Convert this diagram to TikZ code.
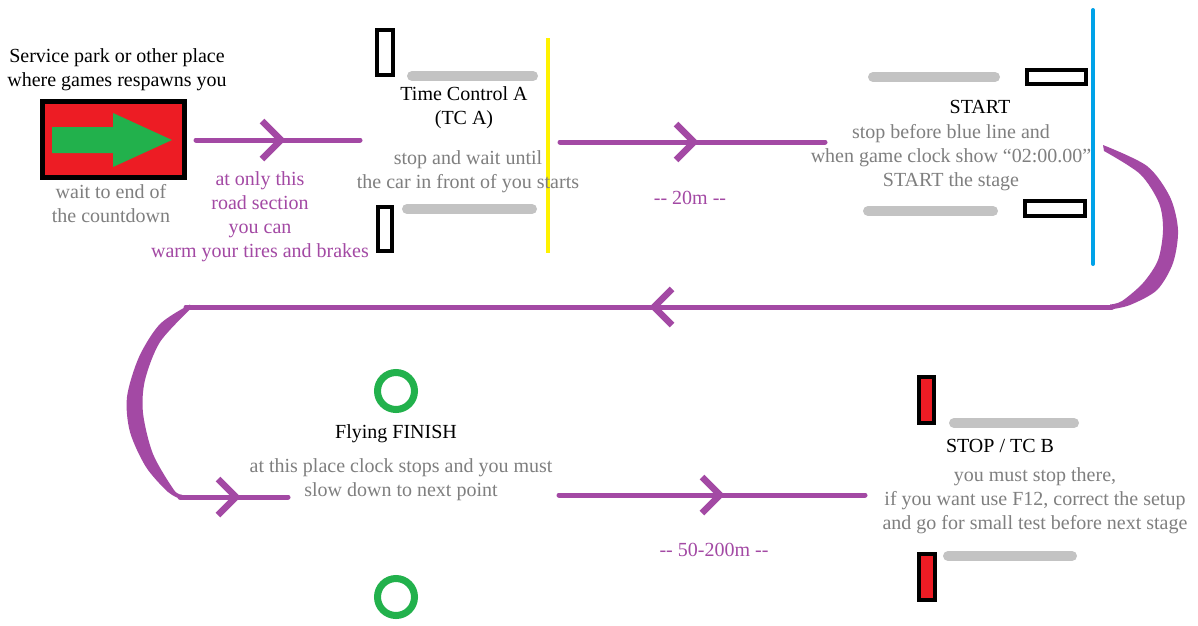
\documentclass[tikz,border=0pt]{standalone}
\usepackage{fontspec}
\setmainfont{Liberation Serif}
\newfontfamily\tnr{Liberation Serif}
\definecolor{purp}{RGB}{163,73,164}
\definecolor{tred}{RGB}{237,28,36}
\definecolor{tgreen}{RGB}{34,177,76}
\definecolor{tblue}{RGB}{0,162,232}
\definecolor{tyellow}{RGB}{255,242,0}
\definecolor{lgray}{RGB}{195,195,195}
\definecolor{tgray}{RGB}{127,127,127}
\tikzset{
  road/.style={draw=purp, line width=5pt, line cap=round},
  chev/.style={draw=purp, line width=6.5pt, line join=miter, line cap=butt},
  bar/.style={draw=lgray, line width=10pt, line cap=round},
  post/.style={draw=black, line width=4pt},
  redpost/.style={post, fill=tred},
  ring/.style={draw=tgreen, line width=7pt},
  txt/.style={inner sep=0pt, align=center, font=\tnr\fontsize{20}{24}\selectfont},
  blk/.style={txt, text=black},
  gry/.style={txt, text=tgray},
  prp/.style={txt, text=purp}
}
\begin{document}
\begin{tikzpicture}[x=1pt, y=-1pt]
\useasboundingbox[fill=white] (0,0) rectangle (1198,625);

% ---------- service park ----------
\node[blk] (svc) at (117,69.5) {Service park or other place\\where games respawns you};
\draw[line width=5pt, fill=tred] (42.5,101.5) rectangle (184.5,177.5);
\fill[tgreen] (52,127) -- (113,127) -- (113,113) -- (172,140) -- (113,167) -- (113,153) -- (52,153) -- cycle;
\node[gry] (wait) at (111,204) {wait to end of\\the countdown};

% road 1
\coordinate (r1a) at (196,140);
\coordinate (r1b) at (360,140);
\draw[road] (r1a) -- (r1b);
\draw[chev] (262,121) -- (281,140) -- (262,159);
\node[prp] (warm) at (260,217) {at only this\\road section\\you can\\warm your tires and brakes};

% ---------- TC A ----------
\draw[post] (377,30) rectangle (393,75);
\draw[post] (378,207) rectangle (392,251);
\draw[bar] (412,76) -- (533,76);
\draw[bar] (407,209) -- (532,209);
\draw[line width=4pt, draw=tyellow] (548,38) -- (548,253);
\node[blk] (tca) at (464,108) {Time Control A\\(TC A)};
\node[gry] (tcat) at (468,171.5) {stop and wait until\\the car in front of you starts};

% road 2
\coordinate (r2a) at (560,142);
\coordinate (r2b) at (825,142);
\draw[road] (r2a) -- (r2b);
\draw[chev] (676,124) -- (694,142) -- (676,160);
\node[prp] (d20) at (690,198) {-\kern0pt- 20m -\kern0pt-};

% ---------- START ----------
\draw[bar] (873,77) -- (995,77);
\draw[bar] (868,211) -- (993,211);
\draw[post] (1027,70) rectangle (1086,84);
\draw[post] (1025,201) rectangle (1085,216);
\draw[line width=4pt, draw=tblue, line cap=round] (1093,10) -- (1093,264);
\node[blk] (start) at (980,107) {START};
\node[gry] (startt) at (951,158) {stop before blue line and\\when game clock show “02:00.00”\\START the stage};

% ---------- U-turn right ----------
\fill[purp] plot[smooth] coordinates {(1103,145) (1147,166) (1170,197) (1178,230) (1173,263) (1157,290) (1130,305) (1110,309.5)}
  -- plot[smooth] coordinates {(1110,304.5) (1122,301) (1143,283) (1158,260) (1163,230) (1159,203) (1140,174) (1104,151)} -- cycle;

% return road
\coordinate (r3a) at (1112,307);
\coordinate (r3b) at (186,307);
\draw[road] (r3a) -- (r3b);
\draw[chev] (672,289) -- (654,307) -- (672,325);

% ---------- U-turn left ----------
\fill[purp] plot[smooth] coordinates {(190,304.5) (160,324) (139,357) (127,397) (130,432) (146,467) (168,492) (182,499.5)}
  -- plot[smooth] coordinates {(182,494.5) (174,490) (153,454) (143,413) (145,380) (160,342) (190,309.5)} -- cycle;

% road 4
\coordinate (r4a) at (180,497);
\coordinate (r4b) at (288,497);
\draw[road] (r4a) -- (r4b);
\draw[chev] (218,479) -- (236,497) -- (218,515);

% ---------- Flying finish ----------
\draw[ring] (396,391) circle[radius=18.5];
\draw[ring] (396,597) circle[radius=18.5];
\node[blk] (ff) at (396,433.5) {Flying FINISH};
\node[gry] (fft) at (401,479.5) {at this place clock stops and you must\\slow down to next point};

% road 5
\coordinate (r5a) at (559,495);
\coordinate (r5b) at (865,495);
\draw[road] (r5a) -- (r5b);
\draw[chev] (702,477) -- (720,495) -- (702,513);
\node[prp] (d50) at (714,550) {-\kern0pt- 50-200m -\kern0pt-};

% ---------- STOP / TC B ----------
\draw[redpost] (919,377) rectangle (934,423);
\draw[redpost] (919,554) rectangle (935,600);
\draw[bar] (954,423) -- (1074,423);
\draw[bar] (948,556) -- (1072,556);
\node[blk] (stop) at (1000,446) {STOP / TC B};
\node[gry] (stopt) at (1035,500.5) {you must stop there,\\if you want use F12, correct the setup\\and go for small test before next stage};
\end{tikzpicture}
\end{document}
